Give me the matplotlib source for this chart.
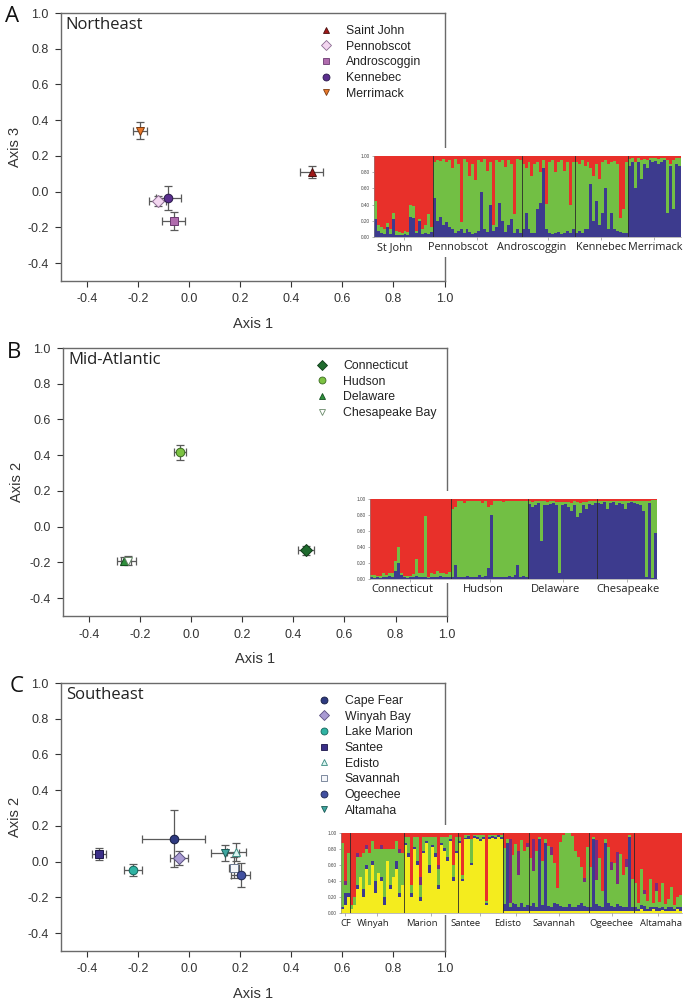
import matplotlib
matplotlib.use('Agg')
import matplotlib.pyplot as plt
from matplotlib.patches import Rectangle
from matplotlib.lines import Line2D
import numpy as np

plt.rcParams['font.family'] = ['Liberation Sans', 'DejaVu Sans']
plt.rcParams['axes.unicode_minus'] = False

# ---- PCA centroids -------------------------------------------------------
ne_names = ['Saint John', 'Pennobscot', 'Androscoggin', 'Kennebec', 'Merrimack']
ne_x = [0.480, -0.123, -0.060, -0.081, -0.192]
ne_y = [0.112, -0.052, -0.163, -0.037, 0.342]
ne_xerr = [0.044, 0.034, 0.046, 0.049, 0.026]
ne_yerr = [0.034, 0.028, 0.049, 0.067, 0.047]

ma_names = ['Connecticut', 'Hudson', 'Delaware', 'Chesapeake Bay']
ma_x = [0.450, -0.043, -0.262, -0.245]
ma_y = [-0.132, 0.416, -0.190, -0.190]
ma_xerr = [0.031, 0.025, 0.028, 0.030]
ma_yerr = [0.026, 0.041, 0.022, 0.025]

se_names = ['Cape Fear', 'Winyah Bay', 'Lake Marion', 'Santee', 'Edisto',
            'Savannah', 'Ogeechee', 'Altamaha']
se_x = [-0.060, -0.039, -0.219, -0.352, 0.185, 0.177, 0.202, 0.141]
se_y = [0.129, 0.022, -0.047, 0.045, 0.054, -0.034, -0.073, 0.049]
se_xerr = [0.122, 0.035, 0.035, 0.026, 0.038, 0.020, 0.036, 0.055]
se_yerr = [0.160, 0.040, 0.035, 0.033, 0.050, 0.060, 0.066, 0.043]

# ---- STRUCTURE membership (percent per individual) -----------------------
ne_groups = ['St John', 'Pennobscot', 'Androscoggin', 'Kennebec', 'Merrimack']
ne_sizes = [20, 30, 18, 18, 18]
ne_blue = [22, 8, 5, 4, 12, 4, 22, 3, 2, 2, 4, 3, 25, 24, 5, 20, 4, 5, 4, 6,
           48, 20, 25, 15, 18, 12, 10, 5, 8, 10, 5, 10, 6, 4, 5, 8, 55, 10, 6, 40,
           8, 12, 42, 20, 6, 15, 22, 5, 10, 5,
           10, 30, 10, 5, 5, 35, 42, 85, 10, 5, 4, 5, 6, 4, 5, 8, 5, 10,
           5, 8, 5, 10, 10, 65, 20, 45, 15, 30, 60, 10, 30, 10, 8, 6, 5, 5,
           88, 92, 60, 93, 72, 90, 85, 95, 92, 94, 90, 93, 95, 30, 88, 35, 90, 88]
ne_green = [23, 7, 7, 6, 5, 6, 8, 5, 4, 3, 3, 3, 15, 14, 3, 2, 6, 10, 24, 6,
            45, 75, 69, 81, 75, 83, 75, 91, 82, 8, 91, 82, 69, 86, 65, 87, 38, 86, 76, 52,
            7, 83, 50, 75, 80, 80, 68, 23, 86, 90,
            80, 55, 82, 70, 85, 57, 38, 10, 31, 88, 91, 75, 86, 91, 77, 85, 35, 82,
            87, 82, 90, 78, 82, 20, 55, 45, 57, 62, 35, 80, 63, 84, 82, 18, 30, 87,
            8, 5, 33, 4, 23, 6, 10, 3, 5, 3, 6, 4, 3, 65, 2, 60, 7, 10]

ma_groups = ['Connecticut', 'Hudson', 'Delaware', 'Chesapeake']
ma_sizes = [27, 26, 23, 20]
ma_blue = [2, 1, 2, 1, 3, 2, 4, 3, 10, 20, 5, 2, 1, 2, 3, 4, 2, 3, 2, 1, 2, 3, 2, 4, 3, 2, 3,
           3, 17, 2, 3, 2, 4, 3, 2, 3, 5, 2, 4, 14, 80, 3, 2, 3, 2, 3, 4, 2, 5, 18, 3, 4, 3,
           94, 90, 93, 95, 47, 92, 93, 94, 95, 92, 8, 93, 94, 90, 85, 93, 78, 83, 92, 88, 94, 93, 95,
           95, 94, 96, 87, 95, 96, 93, 95, 94, 88, 95, 96, 95, 94, 93, 85, 2, 95, 1, 58]
ma_green = [3, 4, 2, 3, 5, 3, 3, 4, 12, 20, 3, 2, 3, 2, 3, 21, 6, 4, 77, 2, 5, 3, 8, 3, 5, 4, 6,
            85, 73, 95, 95, 93, 94, 94, 96, 95, 92, 93, 93, 76, 12, 95, 95, 95, 94, 95, 93, 96, 93, 79, 95, 93, 95,
            4, 6, 4, 2, 50, 5, 3, 3, 3, 4, 88, 3, 2, 6, 10, 4, 18, 12, 4, 8, 3, 4, 3,
            3, 4, 2, 11, 3, 2, 5, 3, 4, 10, 3, 2, 3, 4, 5, 13, 96, 3, 98, 41]

se_groups = ['CF', 'Winyah', 'Marion', 'Santee', 'Edisto', 'Savannah', 'Ogeechee', 'Altamaha']
se_sizes = [3, 18, 18, 15, 9, 20, 15, 16]
se_yellow = [5, 10, 20,
             5, 10, 30, 45, 20, 55, 35, 60, 25, 50, 40, 10, 65, 30, 45, 55, 20, 35,
             85, 70, 20, 80, 60, 15, 75, 88, 50, 82, 70, 30, 85, 78, 65, 90, 40, 75,
             88, 40, 92, 93, 60, 94, 92, 90, 93, 10, 92, 94, 93, 95, 92,
             3, 3, 2, 3, 3, 2, 3, 3, 2,
             3, 2, 3, 3, 2, 3, 3, 2, 2, 3, 3, 2, 3, 3, 2, 3, 2, 3, 3, 2,
             3, 2, 3, 3, 3, 2, 3, 3, 2, 3, 3, 3, 2, 3, 3,
             3, 2, 5, 3, 2, 3, 5, 2, 3, 4, 2, 3, 3, 2, 5, 3]
se_blue = [2, 15, 5,
           0, 0, 5, 0, 10, 5, 0, 5, 15, 0, 5, 10, 0, 5, 0, 10, 5, 0,
           2, 5, 5, 3, 5, 5, 2, 2, 10, 3, 5, 5, 2, 3, 5, 2, 5, 3,
           2, 2, 2, 3, 2, 2, 3, 2, 2, 2, 3, 2, 2, 2, 3,
           8, 85, 5, 10, 8, 6, 10, 5, 8,
           6, 10, 5, 90, 8, 85, 6, 5, 10, 8, 6, 5, 5, 8, 6, 5, 8, 10, 6, 5,
           5, 90, 8, 6, 5, 85, 10, 6, 5, 8, 6, 5, 6, 92, 5,
           4, 3, 5, 6, 3, 4, 3, 5, 3, 4, 3, 5, 4, 3, 3, 4]
se_green = [80, 10, 50,
            5, 10, 35, 25, 45, 20, 40, 25, 40, 30, 35, 60, 15, 45, 35, 25, 50, 40,
            8, 20, 10, 12, 30, 15, 18, 5, 35, 10, 20, 20, 8, 14, 25, 5, 15, 17,
            5, 5, 3, 2, 30, 2, 3, 5, 3, 3, 3, 2, 3, 1, 3,
            70, 5, 5, 60, 75, 40, 78, 70, 72,
            60, 40, 70, 2, 55, 5, 75, 65, 50, 20, 80, 90, 92, 90, 88, 70, 60, 45, 30, 75,
            50, 3, 30, 60, 20, 5, 70, 45, 55, 25, 65, 40, 50, 2, 35,
            30, 8, 45, 15, 10, 35, 5, 20, 8, 30, 6, 10, 25, 5, 12, 15]
se_purple = [0, 5, 0,
             0, 0, 5, 0, 0, 5, 0, 0, 0, 0, 5, 0, 0, 0, 0, 0, 5, 0,
             0, 0, 0, 0, 0, 10, 0, 0, 0, 0, 0, 5, 0, 0, 0, 0, 0, 0,
             0, 0, 0, 0, 0, 0, 0, 0, 0, 0, 0, 0, 0, 0, 0,
             0, 0, 80, 0, 0, 30, 0, 0, 5,
             0, 40, 0, 0, 0, 0, 0, 10, 0, 0, 0, 0, 0, 0, 0, 0, 0, 0, 5, 0,
             0, 0, 50, 0, 0, 0, 0, 10, 0, 40, 0, 0, 10, 0, 0,
             0, 0, 0, 5, 0, 0, 0, 10, 0, 0, 0, 0, 0, 0, 0, 0]

RED, GREEN, BLUE, YELLOW, PURPLE = '#e8302a', '#72bf44', '#3d3b8e', '#f4ec1e', '#7b2a7e'
W, H = 695.0, 1002.0


def fig_rect(x0, y0, x1, y1):
    # pixel box (top-left origin) -> figure fraction [l, b, w, h]
    return [x0 / W, 1 - y1 / H, (x1 - x0) / W, (y1 - y0) / H]


def draw_panel(ax, names, xs, ys, xerr, yerr, markers, faces, edges, ylabel, title, leg_x):
    ax.errorbar(xs, ys, xerr=xerr, yerr=yerr, fmt='none', ecolor='#5a5a5a',
                elinewidth=0.9, capsize=2.6, capthick=0.9, zorder=2)
    handles = []
    for i in range(len(names)):
        ax.plot(xs[i], ys[i], linestyle='none', marker=markers[i], ms=6.2,
                mfc=faces[i], mec=edges[i], mew=0.7, zorder=3)
        handles.append(Line2D([], [], linestyle='none', marker=markers[i], ms=5,
                              mfc=faces[i], mec=edges[i], mew=0.6, label=names[i]))
    ax.set_xlim(-0.5, 1.0)
    ax.set_ylim(-0.5, 1.0)
    ax.set_xticks(np.arange(-0.4, 1.01, 0.2))
    ax.set_yticks(np.arange(-0.4, 1.01, 0.2))
    ax.xaxis.set_major_formatter(matplotlib.ticker.FormatStrFormatter('%.1f'))
    ax.yaxis.set_major_formatter(matplotlib.ticker.FormatStrFormatter('%.1f'))
    ax.tick_params(labelsize=9, colors='#333333', length=4, width=0.8, pad=5)
    for s in ax.spines.values():
        s.set_color('#6a6a6a')
        s.set_linewidth(1.0)
    ax.set_xlabel('Axis 1', fontsize=10.5, color='#333333', labelpad=8)
    ax.set_ylabel(ylabel, fontsize=10.5, color='#333333', labelpad=4)
    ax.text(0.012, 0.985, title, transform=ax.transAxes, ha='left', va='top',
            fontsize=12, family=['Open Sans', 'DejaVu Sans'], color='#222222')
    ax.legend(handles=handles, loc='upper left', bbox_to_anchor=(leg_x, 0.955),
              frameon=False, fontsize=8.8, handlelength=1.0, handletextpad=1.2,
              labelspacing=0.3, borderpad=0, borderaxespad=0, labelcolor='#222222')


def draw_structure(fig, box, white, groups, sizes, layers, colors, label_pos, label_size):
    fig.patches.append(Rectangle((white[0] / W, 1 - white[3] / H),
                                 (white[2] - white[0]) / W, (white[3] - white[1]) / H,
                                 transform=fig.transFigure, facecolor='white',
                                 edgecolor='none', zorder=1))
    ax = fig.add_axes(fig_rect(*box))
    ax.set_zorder(2)
    n = sum(sizes)
    idx = np.arange(n)
    bottom = np.zeros(n)
    for vals, c in zip(layers, colors):
        v = np.array(vals) / 100.0
        ax.bar(idx, v, bottom=bottom, width=1.0, align='edge', color=c,
               linewidth=0, antialiased=False)
        bottom += v
    ax.bar(idx, 1 - bottom, bottom=bottom, width=1.0, align='edge', color=RED,
           linewidth=0, antialiased=False)
    edges = np.cumsum(sizes)
    for e in edges[:-1]:
        ax.axvline(e, color='#2a2a2a', lw=0.6)
    centers = edges - np.array(sizes) / 2.0
    ax.set_xlim(0, n)
    ax.set_ylim(0, 1)
    ax.set_xticks(centers)
    ax.set_xticklabels([])
    for name, fx in zip(groups, label_pos):
        ax.text(fx, -0.135, name, transform=ax.transAxes, ha='center', va='center',
                fontsize=label_size, family=['Open Sans', 'DejaVu Sans'], color='#222222')
    ax.set_yticks(np.arange(0, 1.01, 0.2))
    ax.set_yticklabels(['%.2f' % t for t in np.arange(0, 1.01, 0.2)], fontsize=3.4,
                       color='#444444')
    ax.tick_params(axis='y', length=1.5, width=0.4, pad=1.5, colors='#777777',
                   labelcolor='#444444')
    ax.tick_params(axis='x', length=2, width=0.4, colors='#777777')
    for s in ['top', 'right']:
        ax.spines[s].set_visible(False)
    for s in ['left', 'bottom']:
        ax.spines[s].set_color('#888888')
        ax.spines[s].set_linewidth(0.4)
    return ax


fig = plt.figure(figsize=(6.95, 10.02), dpi=100)

axA = fig.add_axes(fig_rect(61.2, 13, 444.5, 281))
draw_panel(axA, ne_names, ne_x, ne_y, ne_xerr, ne_yerr,
           ['^', 'D', 's', 'o', 'v'],
           ['#a01818', '#f3d6f0', '#b06cae', '#5b2f8e', '#e8782a'],
           ['#4a1010', '#8a6a90', '#6a3a70', '#2a1a4a', '#7a3a10'],
           'Axis 3', 'Northeast', 0.674)

axB = fig.add_axes(fig_rect(63.3, 348, 446.7, 616))
draw_panel(axB, ma_names, ma_x, ma_y, ma_xerr, ma_yerr,
           ['D', 'o', '^', 'v'],
           ['#1f6b2e', '#7cc242', '#2f8f3c', '#ffffff'],
           ['#0f3a18', '#3a6a20', '#145020', '#6a8a6a'],
           'Axis 2', 'Mid-Atlantic', 0.66)

axC = fig.add_axes(fig_rect(61.2, 683, 444.5, 951))
draw_panel(axC, se_names, se_x, se_y, se_xerr, se_yerr,
           ['o', 'D', 'o', 's', '^', 's', 'o', 'v'],
           ['#2e3a80', '#a99bd3', '#2fb3a3', '#3b2f88', '#d8f4f0', '#f4f6fa', '#4150a0', '#3fa7a0'],
           ['#151c40', '#5a5080', '#14645a', '#1a1448', '#3a8a80', '#6a7890', '#1e2650', '#1a5a55'],
           'Axis 2', 'Southeast', 0.669)

draw_structure(fig, (374, 156, 681, 237), (352, 148, 690, 257), ne_groups, ne_sizes,
               [ne_blue, ne_green], [BLUE, GREEN],
               [0.068, 0.272, 0.513, 0.739, 0.917], 7.8)
draw_structure(fig, (370, 499, 657, 579), (352, 491, 690, 583), ma_groups, ma_sizes,
               [ma_blue, ma_green], [BLUE, GREEN],
               [0.113, 0.395, 0.645, 0.899], 8.0)
draw_structure(fig, (341, 833, 682, 913), (312, 825, 690, 915), se_groups, se_sizes,
               [se_yellow, se_blue, se_green, se_purple], [YELLOW, BLUE, GREEN, PURPLE],
               [0.014, 0.094, 0.236, 0.364, 0.49, 0.626, 0.792, 0.938], 6.8)

for letter, px, py in [('A', 12, 16), ('B', 14, 352), ('C', 17, 687)]:
    fig.text(px / W, 1 - py / H, letter, fontsize=16, ha='center', va='center',
             family=['Open Sans', 'DejaVu Sans'], color='#111111')

fig.savefig('out.png', dpi=100)
